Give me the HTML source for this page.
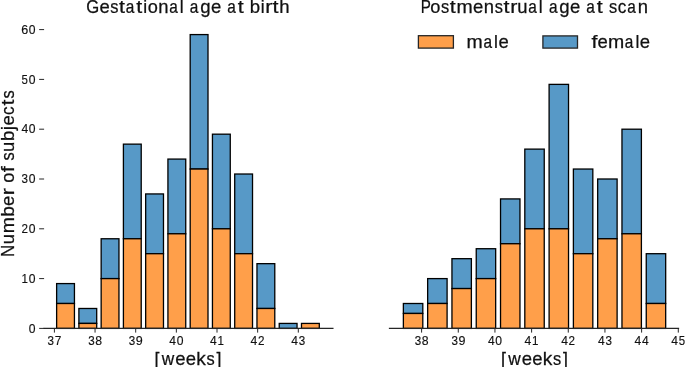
<!DOCTYPE html>
<html><head><meta charset="utf-8"><style>
html,body{margin:0;padding:0;background:#fff;}
svg{display:block;will-change:transform;}
text{font-family:"Liberation Sans", sans-serif;fill:#111;stroke:#111;stroke-width:0.25px;} .tk text{stroke-width:0.15px;}
</style></head><body>
<svg width="685" height="367" viewBox="0 0 685 367">
<rect width="685" height="367" fill="#fff"/>
<rect x="56.63" y="283.58" width="17.81" height="19.92" fill="#5799c7" stroke="#000000" stroke-width="1.3"/>
<rect x="56.63" y="303.50" width="17.81" height="24.90" fill="#ff9f4a" stroke="#000000" stroke-width="1.3"/>
<rect x="78.89" y="308.48" width="17.81" height="14.94" fill="#5799c7" stroke="#000000" stroke-width="1.3"/>
<rect x="78.89" y="323.42" width="17.81" height="4.98" fill="#ff9f4a" stroke="#000000" stroke-width="1.3"/>
<rect x="101.15" y="238.76" width="17.81" height="39.84" fill="#5799c7" stroke="#000000" stroke-width="1.3"/>
<rect x="101.15" y="278.60" width="17.81" height="49.80" fill="#ff9f4a" stroke="#000000" stroke-width="1.3"/>
<rect x="123.41" y="144.14" width="17.81" height="94.62" fill="#5799c7" stroke="#000000" stroke-width="1.3"/>
<rect x="123.41" y="238.76" width="17.81" height="89.64" fill="#ff9f4a" stroke="#000000" stroke-width="1.3"/>
<rect x="145.67" y="193.94" width="17.81" height="59.76" fill="#5799c7" stroke="#000000" stroke-width="1.3"/>
<rect x="145.67" y="253.70" width="17.81" height="74.70" fill="#ff9f4a" stroke="#000000" stroke-width="1.3"/>
<rect x="167.93" y="159.08" width="17.81" height="74.70" fill="#5799c7" stroke="#000000" stroke-width="1.3"/>
<rect x="167.93" y="233.78" width="17.81" height="94.62" fill="#ff9f4a" stroke="#000000" stroke-width="1.3"/>
<rect x="190.19" y="34.58" width="17.81" height="134.46" fill="#5799c7" stroke="#000000" stroke-width="1.3"/>
<rect x="190.19" y="169.04" width="17.81" height="159.36" fill="#ff9f4a" stroke="#000000" stroke-width="1.3"/>
<rect x="212.45" y="134.18" width="17.81" height="94.62" fill="#5799c7" stroke="#000000" stroke-width="1.3"/>
<rect x="212.45" y="228.80" width="17.81" height="99.60" fill="#ff9f4a" stroke="#000000" stroke-width="1.3"/>
<rect x="234.71" y="174.02" width="17.81" height="79.68" fill="#5799c7" stroke="#000000" stroke-width="1.3"/>
<rect x="234.71" y="253.70" width="17.81" height="74.70" fill="#ff9f4a" stroke="#000000" stroke-width="1.3"/>
<rect x="256.97" y="263.66" width="17.81" height="44.82" fill="#5799c7" stroke="#000000" stroke-width="1.3"/>
<rect x="256.97" y="308.48" width="17.81" height="19.92" fill="#ff9f4a" stroke="#000000" stroke-width="1.3"/>
<rect x="279.23" y="323.42" width="17.81" height="4.98" fill="#5799c7" stroke="#000000" stroke-width="1.3"/>
<rect x="301.49" y="323.42" width="17.81" height="4.98" fill="#ff9f4a" stroke="#000000" stroke-width="1.3"/>
<rect x="403.37" y="303.50" width="19.43" height="9.96" fill="#5799c7" stroke="#000000" stroke-width="1.3"/>
<rect x="403.37" y="313.46" width="19.43" height="14.94" fill="#ff9f4a" stroke="#000000" stroke-width="1.3"/>
<rect x="427.66" y="278.60" width="19.43" height="24.90" fill="#5799c7" stroke="#000000" stroke-width="1.3"/>
<rect x="427.66" y="303.50" width="19.43" height="24.90" fill="#ff9f4a" stroke="#000000" stroke-width="1.3"/>
<rect x="451.95" y="258.68" width="19.43" height="29.88" fill="#5799c7" stroke="#000000" stroke-width="1.3"/>
<rect x="451.95" y="288.56" width="19.43" height="39.84" fill="#ff9f4a" stroke="#000000" stroke-width="1.3"/>
<rect x="476.24" y="248.72" width="19.43" height="29.88" fill="#5799c7" stroke="#000000" stroke-width="1.3"/>
<rect x="476.24" y="278.60" width="19.43" height="49.80" fill="#ff9f4a" stroke="#000000" stroke-width="1.3"/>
<rect x="500.53" y="198.92" width="19.43" height="44.82" fill="#5799c7" stroke="#000000" stroke-width="1.3"/>
<rect x="500.53" y="243.74" width="19.43" height="84.66" fill="#ff9f4a" stroke="#000000" stroke-width="1.3"/>
<rect x="524.81" y="149.12" width="19.43" height="79.68" fill="#5799c7" stroke="#000000" stroke-width="1.3"/>
<rect x="524.81" y="228.80" width="19.43" height="99.60" fill="#ff9f4a" stroke="#000000" stroke-width="1.3"/>
<rect x="549.10" y="84.38" width="19.43" height="144.42" fill="#5799c7" stroke="#000000" stroke-width="1.3"/>
<rect x="549.10" y="228.80" width="19.43" height="99.60" fill="#ff9f4a" stroke="#000000" stroke-width="1.3"/>
<rect x="573.39" y="169.04" width="19.43" height="84.66" fill="#5799c7" stroke="#000000" stroke-width="1.3"/>
<rect x="573.39" y="253.70" width="19.43" height="74.70" fill="#ff9f4a" stroke="#000000" stroke-width="1.3"/>
<rect x="597.68" y="179.00" width="19.43" height="59.76" fill="#5799c7" stroke="#000000" stroke-width="1.3"/>
<rect x="597.68" y="238.76" width="19.43" height="89.64" fill="#ff9f4a" stroke="#000000" stroke-width="1.3"/>
<rect x="621.97" y="129.20" width="19.43" height="104.58" fill="#5799c7" stroke="#000000" stroke-width="1.3"/>
<rect x="621.97" y="233.78" width="19.43" height="94.62" fill="#ff9f4a" stroke="#000000" stroke-width="1.3"/>
<rect x="646.25" y="253.70" width="19.43" height="49.80" fill="#5799c7" stroke="#000000" stroke-width="1.3"/>
<rect x="646.25" y="303.50" width="19.43" height="24.90" fill="#ff9f4a" stroke="#000000" stroke-width="1.3"/>
<line x1="44.1" y1="328.4" x2="332.9" y2="328.4" stroke="#262626" stroke-width="1.25" stroke-linecap="square"/>
<line x1="389.5" y1="328.4" x2="678.5" y2="328.4" stroke="#262626" stroke-width="1.25" stroke-linecap="square"/>
<line x1="54.40" y1="328.4" x2="54.40" y2="332.59999999999997" stroke="#262626" stroke-width="1.0"/>
<g class="tk" transform="translate(0,344.80)"><text transform="translate(50.72,0) scale(0.969,1)" x="-3.31" font-size="12.02">3</text><text transform="translate(58.04,0) scale(0.987,1)" x="-3.35" font-size="12.02">7</text></g>
<line x1="95.05" y1="328.4" x2="95.05" y2="332.59999999999997" stroke="#262626" stroke-width="1.0"/>
<g class="tk" transform="translate(0,344.80)"><text transform="translate(91.37,0) scale(0.969,1)" x="-3.31" font-size="12.02">3</text><text transform="translate(98.71,0) scale(1.020,1)" x="-3.34" font-size="12.02">8</text></g>
<line x1="135.70" y1="328.4" x2="135.70" y2="332.59999999999997" stroke="#262626" stroke-width="1.0"/>
<g class="tk" transform="translate(0,344.80)"><text transform="translate(132.02,0) scale(0.969,1)" x="-3.31" font-size="12.02">3</text><text transform="translate(139.32,0) scale(1.042,1)" x="-3.34" font-size="12.02">9</text></g>
<line x1="176.35" y1="328.4" x2="176.35" y2="332.59999999999997" stroke="#262626" stroke-width="1.0"/>
<g class="tk" transform="translate(0,344.80)"><text transform="translate(172.65,0) scale(1.009,1)" x="-3.30" font-size="12.02">4</text><text transform="translate(180.01,0) scale(1.009,1)" x="-3.34" font-size="12.02">0</text></g>
<line x1="217.00" y1="328.4" x2="217.00" y2="332.59999999999997" stroke="#262626" stroke-width="1.0"/>
<g class="tk" transform="translate(0,344.80)"><text transform="translate(213.30,0) scale(1.009,1)" x="-3.30" font-size="12.02">4</text><text transform="translate(220.76,0) scale(0.963,1)" x="-3.51" font-size="12.02">1</text></g>
<line x1="257.65" y1="328.4" x2="257.65" y2="332.59999999999997" stroke="#262626" stroke-width="1.0"/>
<g class="tk" transform="translate(0,344.80)"><text transform="translate(253.95,0) scale(1.009,1)" x="-3.30" font-size="12.02">4</text><text transform="translate(261.15,0) scale(0.972,1)" x="-3.34" font-size="12.02">2</text></g>
<line x1="298.30" y1="328.4" x2="298.30" y2="332.59999999999997" stroke="#262626" stroke-width="1.0"/>
<g class="tk" transform="translate(0,344.80)"><text transform="translate(294.60,0) scale(1.009,1)" x="-3.30" font-size="12.02">4</text><text transform="translate(301.94,0) scale(0.969,1)" x="-3.31" font-size="12.02">3</text></g>
<line x1="421.60" y1="328.4" x2="421.60" y2="332.59999999999997" stroke="#262626" stroke-width="1.0"/>
<g class="tk" transform="translate(0,344.80)"><text transform="translate(417.92,0) scale(0.969,1)" x="-3.31" font-size="12.02">3</text><text transform="translate(425.26,0) scale(1.020,1)" x="-3.34" font-size="12.02">8</text></g>
<line x1="458.27" y1="328.4" x2="458.27" y2="332.59999999999997" stroke="#262626" stroke-width="1.0"/>
<g class="tk" transform="translate(0,344.80)"><text transform="translate(454.59,0) scale(0.969,1)" x="-3.31" font-size="12.02">3</text><text transform="translate(461.89,0) scale(1.042,1)" x="-3.34" font-size="12.02">9</text></g>
<line x1="494.94" y1="328.4" x2="494.94" y2="332.59999999999997" stroke="#262626" stroke-width="1.0"/>
<g class="tk" transform="translate(0,344.80)"><text transform="translate(491.24,0) scale(1.009,1)" x="-3.30" font-size="12.02">4</text><text transform="translate(498.60,0) scale(1.009,1)" x="-3.34" font-size="12.02">0</text></g>
<line x1="531.61" y1="328.4" x2="531.61" y2="332.59999999999997" stroke="#262626" stroke-width="1.0"/>
<g class="tk" transform="translate(0,344.80)"><text transform="translate(527.91,0) scale(1.009,1)" x="-3.30" font-size="12.02">4</text><text transform="translate(535.37,0) scale(0.963,1)" x="-3.51" font-size="12.02">1</text></g>
<line x1="568.28" y1="328.4" x2="568.28" y2="332.59999999999997" stroke="#262626" stroke-width="1.0"/>
<g class="tk" transform="translate(0,344.80)"><text transform="translate(564.58,0) scale(1.009,1)" x="-3.30" font-size="12.02">4</text><text transform="translate(571.78,0) scale(0.972,1)" x="-3.34" font-size="12.02">2</text></g>
<line x1="604.95" y1="328.4" x2="604.95" y2="332.59999999999997" stroke="#262626" stroke-width="1.0"/>
<g class="tk" transform="translate(0,344.80)"><text transform="translate(601.25,0) scale(1.009,1)" x="-3.30" font-size="12.02">4</text><text transform="translate(608.59,0) scale(0.969,1)" x="-3.31" font-size="12.02">3</text></g>
<line x1="641.62" y1="328.4" x2="641.62" y2="332.59999999999997" stroke="#262626" stroke-width="1.0"/>
<g class="tk" transform="translate(0,344.80)"><text transform="translate(637.92,0) scale(1.009,1)" x="-3.30" font-size="12.02">4</text><text transform="translate(645.24,0) scale(1.009,1)" x="-3.30" font-size="12.02">4</text></g>
<line x1="678.29" y1="328.4" x2="678.29" y2="332.59999999999997" stroke="#262626" stroke-width="1.0"/>
<g class="tk" transform="translate(0,344.80)"><text transform="translate(674.59,0) scale(1.009,1)" x="-3.30" font-size="12.02">4</text><text transform="translate(681.89,0) scale(0.952,1)" x="-3.33" font-size="12.02">5</text></g>
<line x1="39.15" y1="328.40" x2="44.1" y2="328.40" stroke="#262626" stroke-width="1.0"/>
<g class="tk" transform="translate(0,332.50)"><text transform="translate(32.10,0) scale(1.009,1)" x="-3.34" font-size="12.02">0</text></g>
<line x1="39.15" y1="278.60" x2="44.1" y2="278.60" stroke="#262626" stroke-width="1.0"/>
<g class="tk" transform="translate(0,282.70)"><text transform="translate(24.89,0) scale(0.963,1)" x="-3.51" font-size="12.02">1</text><text transform="translate(32.10,0) scale(1.009,1)" x="-3.34" font-size="12.02">0</text></g>
<line x1="39.15" y1="228.80" x2="44.1" y2="228.80" stroke="#262626" stroke-width="1.0"/>
<g class="tk" transform="translate(0,232.90)"><text transform="translate(24.63,0) scale(0.972,1)" x="-3.34" font-size="12.02">2</text><text transform="translate(32.10,0) scale(1.009,1)" x="-3.34" font-size="12.02">0</text></g>
<line x1="39.15" y1="179.00" x2="44.1" y2="179.00" stroke="#262626" stroke-width="1.0"/>
<g class="tk" transform="translate(0,183.10)"><text transform="translate(24.77,0) scale(0.969,1)" x="-3.31" font-size="12.02">3</text><text transform="translate(32.10,0) scale(1.009,1)" x="-3.34" font-size="12.02">0</text></g>
<line x1="39.15" y1="129.20" x2="44.1" y2="129.20" stroke="#262626" stroke-width="1.0"/>
<g class="tk" transform="translate(0,133.30)"><text transform="translate(24.75,0) scale(1.009,1)" x="-3.30" font-size="12.02">4</text><text transform="translate(32.10,0) scale(1.009,1)" x="-3.34" font-size="12.02">0</text></g>
<line x1="39.15" y1="79.40" x2="44.1" y2="79.40" stroke="#262626" stroke-width="1.0"/>
<g class="tk" transform="translate(0,83.50)"><text transform="translate(24.73,0) scale(0.952,1)" x="-3.33" font-size="12.02">5</text><text transform="translate(32.10,0) scale(1.009,1)" x="-3.34" font-size="12.02">0</text></g>
<line x1="39.15" y1="29.60" x2="44.1" y2="29.60" stroke="#262626" stroke-width="1.0"/>
<g class="tk" transform="translate(0,33.70)"><text transform="translate(24.83,0) scale(1.044,1)" x="-3.38" font-size="12.02">6</text><text transform="translate(32.10,0) scale(1.009,1)" x="-3.34" font-size="12.02">0</text></g>
<g class="" transform="translate(0,13.20)"><text transform="translate(92.44,0) scale(0.933,1)" x="-6.73" font-size="17.87">G</text><text transform="translate(104.59,0) scale(1.034,1)" x="-4.95" font-size="17.87">e</text><text transform="translate(114.35,0) scale(0.917,1)" x="-4.39" font-size="17.87">s</text><text transform="translate(122.15,0) scale(1.200,1)" x="-2.55" font-size="17.87">t</text><text transform="translate(130.46,0) scale(0.861,1)" x="-5.35" font-size="17.87">a</text><text transform="translate(139.35,0) scale(1.200,1)" x="-2.55" font-size="17.87">t</text><text transform="translate(145.07,0) scale(0.978,1)" x="-1.98" font-size="17.87">i</text><text transform="translate(152.68,0) scale(1.017,1)" x="-4.97" font-size="17.87">o</text><text transform="translate(163.40,0) scale(1.032,1)" x="-4.98" font-size="17.87">n</text><text transform="translate(173.76,0) scale(0.861,1)" x="-5.35" font-size="17.87">a</text><text transform="translate(181.65,0) scale(0.978,1)" x="-1.99" font-size="17.87">l</text><text transform="translate(194.45,0) scale(0.861,1)" x="-5.35" font-size="17.87">a</text><text transform="translate(205.09,0) scale(1.040,1)" x="-4.77" font-size="17.87">g</text><text transform="translate(216.12,0) scale(1.034,1)" x="-4.95" font-size="17.87">e</text><text transform="translate(231.80,0) scale(0.861,1)" x="-5.35" font-size="17.87">a</text><text transform="translate(240.69,0) scale(1.200,1)" x="-2.55" font-size="17.87">t</text><text transform="translate(255.21,0) scale(1.041,1)" x="-5.17" font-size="17.87">b</text><text transform="translate(262.72,0) scale(0.978,1)" x="-1.98" font-size="17.87">i</text><text transform="translate(269.39,0) scale(1.200,1)" x="-3.42" font-size="17.87">r</text><text transform="translate(275.52,0) scale(1.200,1)" x="-2.55" font-size="17.87">t</text><text transform="translate(284.32,0) scale(1.039,1)" x="-5.01" font-size="17.87">h</text></g>
<g class="" transform="translate(0,13.20)"><text transform="translate(426.12,0) scale(0.850,1)" x="-6.22" font-size="17.87">P</text><text transform="translate(435.36,0) scale(1.017,1)" x="-4.97" font-size="17.87">o</text><text transform="translate(445.10,0) scale(0.917,1)" x="-4.39" font-size="17.87">s</text><text transform="translate(452.90,0) scale(1.200,1)" x="-2.55" font-size="17.87">t</text><text transform="translate(464.62,0) scale(1.090,1)" x="-7.45" font-size="17.87">m</text><text transform="translate(478.20,0) scale(1.034,1)" x="-4.95" font-size="17.87">e</text><text transform="translate(488.92,0) scale(1.032,1)" x="-4.98" font-size="17.87">n</text><text transform="translate(498.81,0) scale(0.917,1)" x="-4.39" font-size="17.87">s</text><text transform="translate(506.61,0) scale(1.200,1)" x="-2.55" font-size="17.87">t</text><text transform="translate(514.24,0) scale(1.200,1)" x="-3.42" font-size="17.87">r</text><text transform="translate(522.35,0) scale(1.032,1)" x="-4.96" font-size="17.87">u</text><text transform="translate(532.82,0) scale(0.861,1)" x="-5.35" font-size="17.87">a</text><text transform="translate(540.71,0) scale(0.978,1)" x="-1.99" font-size="17.87">l</text><text transform="translate(553.51,0) scale(0.861,1)" x="-5.35" font-size="17.87">a</text><text transform="translate(564.15,0) scale(1.040,1)" x="-4.77" font-size="17.87">g</text><text transform="translate(575.18,0) scale(1.034,1)" x="-4.95" font-size="17.87">e</text><text transform="translate(590.86,0) scale(0.861,1)" x="-5.35" font-size="17.87">a</text><text transform="translate(599.75,0) scale(1.200,1)" x="-2.55" font-size="17.87">t</text><text transform="translate(613.03,0) scale(0.917,1)" x="-4.39" font-size="17.87">s</text><text transform="translate(622.10,0) scale(0.960,1)" x="-4.61" font-size="17.87">c</text><text transform="translate(631.85,0) scale(0.861,1)" x="-5.35" font-size="17.87">a</text><text transform="translate(642.83,0) scale(1.032,1)" x="-4.98" font-size="17.87">n</text></g>
<g class="" transform="translate(0,365.00)"><text transform="translate(157.57,0) scale(0.997,1)" x="-3.05" font-size="17.87">[</text><text transform="translate(168.00,0) scale(0.967,1)" x="-6.46" font-size="17.87">w</text><text transform="translate(180.29,0) scale(1.034,1)" x="-4.95" font-size="17.87">e</text><text transform="translate(190.83,0) scale(1.034,1)" x="-4.95" font-size="17.87">e</text><text transform="translate(201.79,0) scale(1.070,1)" x="-5.08" font-size="17.87">k</text><text transform="translate(210.51,0) scale(0.917,1)" x="-4.39" font-size="17.87">s</text><text transform="translate(218.36,0) scale(0.997,1)" x="-1.92" font-size="17.87">]</text></g>
<g class="" transform="translate(0,365.00)"><text transform="translate(504.07,0) scale(0.997,1)" x="-3.05" font-size="17.87">[</text><text transform="translate(514.50,0) scale(0.967,1)" x="-6.46" font-size="17.87">w</text><text transform="translate(526.79,0) scale(1.034,1)" x="-4.95" font-size="17.87">e</text><text transform="translate(537.33,0) scale(1.034,1)" x="-4.95" font-size="17.87">e</text><text transform="translate(548.29,0) scale(1.070,1)" x="-5.08" font-size="17.87">k</text><text transform="translate(557.01,0) scale(0.917,1)" x="-4.39" font-size="17.87">s</text><text transform="translate(564.86,0) scale(0.997,1)" x="-1.92" font-size="17.87">]</text></g>
<g class="" transform="translate(0,47.80)"><text transform="translate(474.73,0) scale(1.090,1)" x="-7.45" font-size="17.87">m</text><text transform="translate(488.01,0) scale(0.861,1)" x="-5.35" font-size="17.87">a</text><text transform="translate(495.90,0) scale(0.978,1)" x="-1.99" font-size="17.87">l</text><text transform="translate(503.56,0) scale(1.034,1)" x="-4.95" font-size="17.87">e</text></g>
<g class="" transform="translate(0,47.80)"><text transform="translate(594.58,0) scale(1.200,1)" x="-2.62" font-size="17.87">f</text><text transform="translate(602.51,0) scale(1.034,1)" x="-4.95" font-size="17.87">e</text><text transform="translate(616.15,0) scale(1.090,1)" x="-7.45" font-size="17.87">m</text><text transform="translate(629.43,0) scale(0.861,1)" x="-5.35" font-size="17.87">a</text><text transform="translate(637.33,0) scale(0.978,1)" x="-1.99" font-size="17.87">l</text><text transform="translate(644.98,0) scale(1.034,1)" x="-4.95" font-size="17.87">e</text></g>
<g transform="translate(13.50,255.60) rotate(-90)">
<g class="" transform="translate(0,0.00)"><text transform="translate(4.72,0) scale(0.945,1)" x="-6.46" font-size="17.87">N</text><text transform="translate(16.50,0) scale(1.032,1)" x="-4.96" font-size="17.87">u</text><text transform="translate(30.36,0) scale(1.090,1)" x="-7.45" font-size="17.87">m</text><text transform="translate(44.40,0) scale(1.041,1)" x="-5.17" font-size="17.87">b</text><text transform="translate(54.81,0) scale(1.034,1)" x="-4.95" font-size="17.87">e</text><text transform="translate(64.37,0) scale(1.200,1)" x="-3.42" font-size="17.87">r</text><text transform="translate(77.79,0) scale(1.017,1)" x="-4.97" font-size="17.87">o</text><text transform="translate(86.40,0) scale(1.200,1)" x="-2.62" font-size="17.87">f</text><text transform="translate(99.01,0) scale(0.917,1)" x="-4.39" font-size="17.87">s</text><text transform="translate(108.80,0) scale(1.032,1)" x="-4.96" font-size="17.87">u</text><text transform="translate(120.02,0) scale(1.041,1)" x="-5.17" font-size="17.87">b</text><text transform="translate(126.57,0) scale(1.079,1)" x="-1.16" font-size="17.87">j</text><text transform="translate(135.19,0) scale(1.034,1)" x="-4.95" font-size="17.87">e</text><text transform="translate(145.09,0) scale(0.960,1)" x="-4.61" font-size="17.87">c</text><text transform="translate(153.24,0) scale(1.200,1)" x="-2.55" font-size="17.87">t</text><text transform="translate(161.08,0) scale(0.917,1)" x="-4.39" font-size="17.87">s</text></g>
</g>
<rect x="418.4" y="35.7" width="35.0" height="12.4" fill="#ff9f4a" stroke="#262626" stroke-width="1.3"/>
<rect x="542.9" y="35.9" width="34.6" height="12.2" fill="#5799c7" stroke="#262626" stroke-width="1.3"/>
</svg></body></html>
